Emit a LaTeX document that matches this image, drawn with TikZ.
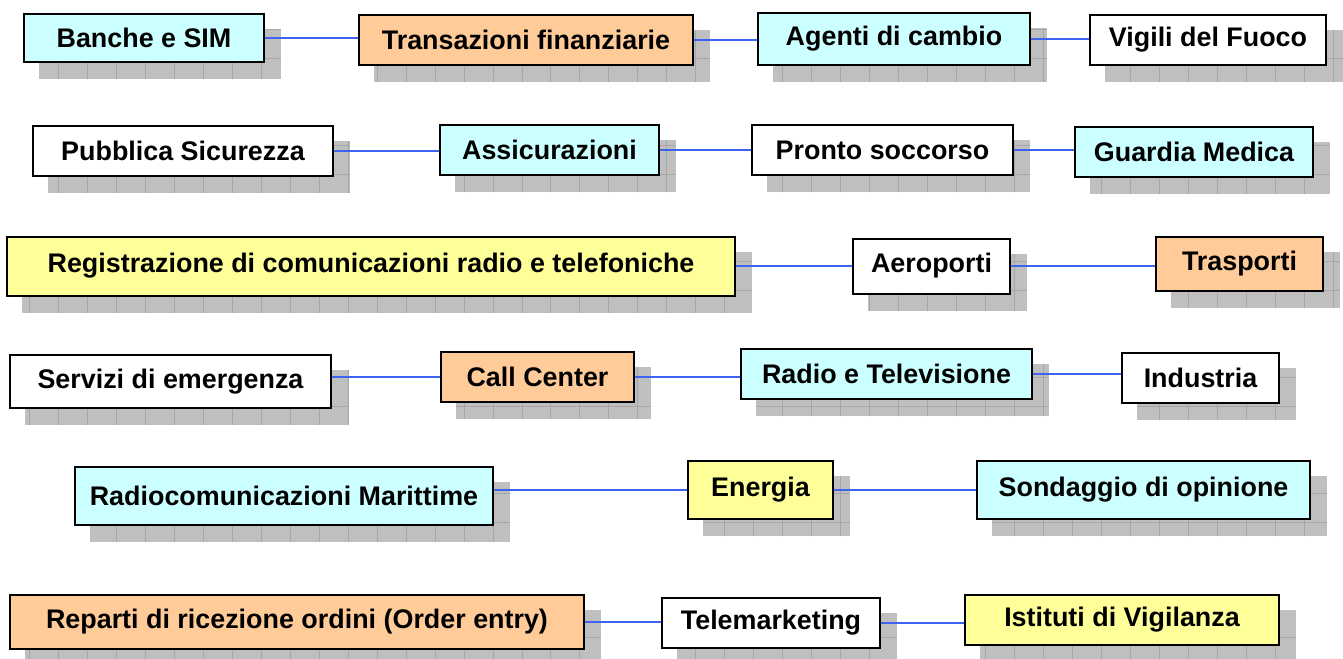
\documentclass[tikz,border=0pt]{standalone}
\usepackage{fontspec}
\setmainfont{Liberation Sans}
\usepackage{xcolor}
\usetikzlibrary{backgrounds}

\newdimen\pxu \pxu=0.02cm
\definecolor{boxcyan}{RGB}{204,255,255}
\definecolor{boxorange}{RGB}{255,204,153}
\definecolor{boxyellow}{RGB}{255,255,153}
\definecolor{linkblue}{RGB}{60,100,240}

\tikzset{
  entry/.style={draw=black, line width=2\pxu, inner sep=0pt,
    font=\fontsize{15.3}{17}\selectfont\bfseries},
  cyanbox/.style={entry, fill=boxcyan},
  orangebox/.style={entry, fill=boxorange},
  yellowbox/.style={entry, fill=boxyellow},
  whitebox/.style={entry, fill=white},
  link/.style={draw=linkblue, line width=1.6\pxu},
  shadowfill/.style={fill=gray!50},
  shadowgrid/.style={draw=gray!70, line width=0.8\pxu},
}

\begin{document}
\begin{tikzpicture}[x=0.02cm, y=-0.02cm]
    \useasboundingbox (0,0) rectangle (1343,659);

    % Row 1
    \node[cyanbox, minimum width=240\pxu, minimum height=48\pxu] (banche) at (144,38) {Banche e SIM};
    \node[orangebox, minimum width=334\pxu, minimum height=50\pxu] (transazioni) at (526,40) {Transazioni finanziarie};
    \node[cyanbox, minimum width=272\pxu, minimum height=52\pxu] (agenti) at (894,39) {Agenti di cambio};
    \node[whitebox, minimum width=236\pxu, minimum height=50\pxu] (vigili) at (1208,40) {Vigili del Fuoco};

    % Row 2
    \node[whitebox, minimum width=300\pxu, minimum height=50\pxu] (pubblica) at (183,151) {Pubblica Sicurezza};
    \node[cyanbox, minimum width=219\pxu, minimum height=50\pxu] (assicurazioni) at (549.5,150) {Assicurazioni};
    \node[whitebox, minimum width=261\pxu, minimum height=50\pxu] (pronto) at (882.5,150) {Pronto soccorso};
    \node[cyanbox, minimum width=238\pxu, minimum height=50\pxu] (guardia) at (1194,152) {Guardia Medica};

    % Row 3
    \node[yellowbox, minimum width=728\pxu, minimum height=59\pxu] (registrazione) at (371,266) {Registrazione di comunicazioni radio e telefoniche};
    \node[whitebox, minimum width=157\pxu, minimum height=55\pxu] (aeroporti) at (931.5,266) {Aeroporti};
    \node[orangebox, minimum width=167\pxu, minimum height=54\pxu] (trasporti) at (1239.5,264) {Trasporti};

    % Row 4
    \node[whitebox, minimum width=321\pxu, minimum height=53\pxu] (servizi) at (170.5,381.5) {Servizi di emergenza};
    \node[orangebox, minimum width=193\pxu, minimum height=50\pxu] (callcenter) at (537.5,377) {Call Center};
    \node[cyanbox, minimum width=291\pxu, minimum height=50\pxu] (radiotv) at (886.5,374) {Radio e Televisione};
    \node[whitebox, minimum width=157\pxu, minimum height=50\pxu] (industria) at (1200.5,378) {Industria};

    % Row 5
    \node[cyanbox, minimum width=418\pxu, minimum height=58\pxu] (radiocom) at (284,496) {Radiocomunicazioni Marittime};
    \node[yellowbox, minimum width=145\pxu, minimum height=58\pxu] (energia) at (760.5,490) {Energia};
    \node[cyanbox, minimum width=333\pxu, minimum height=58\pxu] (sondaggio) at (1143.5,490) {Sondaggio di opinione};

    % Row 6
    \node[orangebox, minimum width=574\pxu, minimum height=54\pxu] (reparti) at (297,622) {Reparti di ricezione ordini (Order entry)};
    \node[whitebox, minimum width=218\pxu, minimum height=50\pxu] (telemarketing) at (771,623) {Telemarketing};
    \node[yellowbox, minimum width=314\pxu, minimum height=50\pxu] (istituti) at (1122,620) {Istituti di Vigilanza};

    % Connectors, kept level with the left box
    \draw[link] (banche.east) -- (banche.east -| transazioni.west);
    \draw[link] (transazioni.east) -- (transazioni.east -| agenti.west);
    \draw[link] (agenti.east) -- (agenti.east -| vigili.west);
    \draw[link] (pubblica.east) -- (pubblica.east -| assicurazioni.west);
    \draw[link] (assicurazioni.east) -- (assicurazioni.east -| pronto.west);
    \draw[link] (pronto.east) -- (pronto.east -| guardia.west);
    \draw[link] (registrazione.east) -- (registrazione.east -| aeroporti.west);
    \draw[link] (aeroporti.east) -- (aeroporti.east -| trasporti.west);
    \draw[link] (callcenter.west -| servizi.east) -- (callcenter.west);
    \draw[link] (callcenter.east) -- (callcenter.east -| radiotv.west);
    \draw[link] (radiotv.east) -- (radiotv.east -| industria.west);
    \draw[link] (energia.west -| radiocom.east) -- (energia.west);
    \draw[link] (energia.east) -- (energia.east -| sondaggio.west);
    \draw[link] (reparti.east) -- (reparti.east -| telemarketing.west);
    \draw[link] (telemarketing.east) -- (telemarketing.east -| istituti.west);

    % Grey grid shadows behind every box
    \begin{scope}[on background layer]
    \foreach \n in {banche,transazioni,agenti,vigili,pubblica,assicurazioni,pronto,guardia,
                    registrazione,aeroporti,trasporti,servizi,callcenter,radiotv,industria,
                    radiocom,energia,sondaggio,reparti,telemarketing,istituti} {
        \fill[shadowfill] ([shift={(16,16)}]\n.north west) rectangle ([shift={(16,16)}]\n.south east);
        \draw[shadowgrid, step=0.58cm] ([shift={(16,16)}]\n.north west) grid ([shift={(16,16)}]\n.south east);
    }
    \end{scope}
\end{tikzpicture}
\end{document}
